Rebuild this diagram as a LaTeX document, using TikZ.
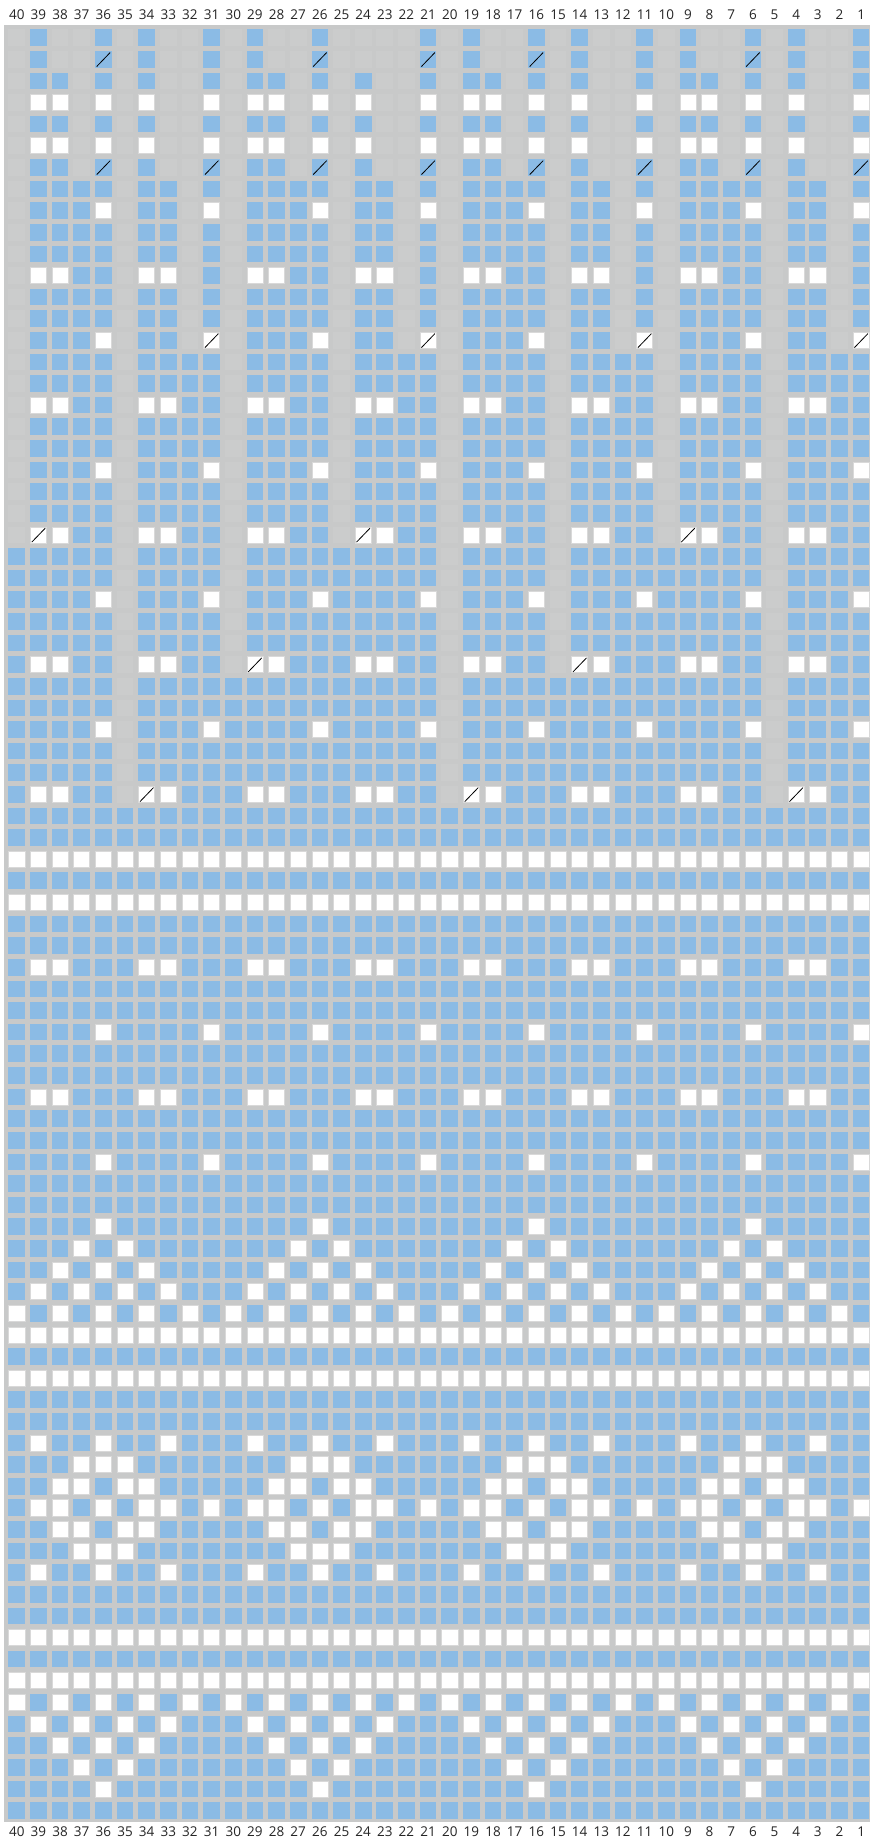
\documentclass[tikz,border=0pt]{standalone}
\usepackage{fontspec}
\setmainfont{Open Sans}
\definecolor{cblue}{HTML}{8BBBE5}
\definecolor{cgray}{HTML}{C8C9C9}
\definecolor{cnone}{HTML}{CBCCCC}
\definecolor{wedge}{HTML}{D9D9D9}
\newcount\cellcol
\newcommand\drawcell[1]{%
  \pgfmathsetmacro\cx{8.4+21.65*\the\cellcol}%
  \if b#1\fill[cblue] (\cx,\cy) rectangle ++(16.7,16.65);\fi
  \if w#1\filldraw[whitecell] (\cx+0.3,\cy+0.3) rectangle ++(16.1,16.05);\fi
  \if S#1\fill[cblue] (\cx,\cy) rectangle ++(16.7,16.65);
    \draw[slashline] (\cx+1.7,\cy+15.6) -- (\cx+15.2,\cy+1.6);\fi
  \if s#1\filldraw[whitecell] (\cx+0.3,\cy+0.3) rectangle ++(16.1,16.05);
    \draw[slashline] (\cx+1.7,\cy+15.6) -- (\cx+15.2,\cy+1.6);\fi
  \if .#1\fill[nonecell] (\cx,\cy) rectangle ++(16.7,16.65);\fi
}
\def\parsechars#1{\ifx\relax#1\else\drawcell{#1}\global\advance\cellcol by 1\relax\expandafter\parsechars\fi}
\newcommand\crow[5]{\pgfmathsetmacro\cy{29.3+21.62*#1}\global\cellcol=0 \parsechars#2#3#4#5\relax}
\newcommand\crowr[2]{\crow{#1}{#2}{#2}{#2}{#2}}
\begin{document}
\begin{tikzpicture}[x=1pt,y=-1pt,
  lbl/.style={font=\fontsize{13.5}{15}\selectfont, inner sep=0pt, text=black!85},
  whitecell/.style={fill=white, draw=wedge, line width=0.6pt},
  nonecell/.style={fill=cnone},
  slashline/.style={draw=black, line width=0.8pt}]
\useasboundingbox (0,0) rectangle (870,1841);
\fill[white] (0,0) rectangle (870,1841);
\fill[cgray] (4,25) rectangle (870,1822);
\foreach \k in {0,...,39}{
  \pgfmathtruncatemacro\c{40-\k}
  \node[lbl] (t\c) at ({16.75+21.65*\k},14.5) {\c};
  \node[lbl] (b\c) at ({16.75+21.65*\k},1832) {\c};
}
\crow{0}{.b..b.b..b}{.b..b....b}{.b..b.b..b}{.b..b.b..b}
\crow{1}{.b..S.b..b}{.b..S....S}{.b..S.b..b}{.b..S.b..b}
\crowr{2}{.bb.b.b..b}
\crowr{3}{.ww.w.w..w}
\crowr{4}{.bb.b.b..b}
\crowr{5}{.ww.w.w..w}
\crowr{6}{.bb.S.b..S}
\crowr{7}{.bbbb.bb.b}
\crowr{8}{.bbbw.bb.w}
\crowr{9}{.bbbb.bb.b}
\crowr{10}{.bbbb.bb.b}
\crowr{11}{.wwbb.ww.b}
\crowr{12}{.bbbb.bb.b}
\crowr{13}{.bbbb.bb.b}
\crowr{14}{.bbbw.bb.s}
\crowr{15}{.bbbb.bbbb}
\crowr{16}{.bbbb.bbbb}
\crowr{17}{.wwbb.wwbb}
\crowr{18}{.bbbb.bbbb}
\crowr{19}{.bbbb.bbbb}
\crowr{20}{.bbbw.bbbw}
\crowr{21}{.bbbb.bbbb}
\crowr{22}{.bbbb.bbbb}
\crow{23}{.swbb.wwbb}{.wwbb.swbb}{.wwbb.wwbb}{.swbb.wwbb}
\crow{24}{bbbbb.bbbb}{.bbbbbbbbb}{.bbbb.bbbb}{bbbbb.bbbb}
\crow{25}{bbbbb.bbbb}{.bbbbbbbbb}{.bbbb.bbbb}{bbbbb.bbbb}
\crow{26}{bbbbw.bbbw}{.bbbwbbbbw}{.bbbw.bbbw}{bbbbw.bbbw}
\crow{27}{bbbbb.bbbb}{.bbbbbbbbb}{.bbbb.bbbb}{bbbbb.bbbb}
\crow{28}{bbbbb.bbbb}{.bbbbbbbbb}{.bbbb.bbbb}{bbbbb.bbbb}
\crow{29}{bwwbb.wwbb}{.swbbbwwbb}{.wwbb.swbb}{bwwbb.wwbb}
\crow{30}{bbbbb.bbbb}{bbbbbbbbbb}{.bbbbbbbbb}{bbbbb.bbbb}
\crow{31}{bbbbb.bbbb}{bbbbbbbbbb}{.bbbbbbbbb}{bbbbb.bbbb}
\crow{32}{bbbbw.bbbw}{bbbbwbbbbw}{.bbbwbbbbw}{bbbbw.bbbw}
\crow{33}{bbbbb.bbbb}{bbbbbbbbbb}{.bbbbbbbbb}{bbbbb.bbbb}
\crow{34}{bbbbb.bbbb}{bbbbbbbbbb}{.bbbbbbbbb}{bbbbb.bbbb}
\crow{35}{bwwbb.swbb}{bwwbbbwwbb}{.swbbbwwbb}{bwwbb.swbb}
\crowr{36}{bbbbbbbbbb}
\crowr{37}{bbbbbbbbbb}
\crowr{38}{wwwwwwwwww}
\crowr{39}{bbbbbbbbbb}
\crowr{40}{wwwwwwwwww}
\crowr{41}{bbbbbbbbbb}
\crowr{42}{bbbbbbbbbb}
\crowr{43}{bwwbbbwwbb}
\crowr{44}{bbbbbbbbbb}
\crowr{45}{bbbbbbbbbb}
\crowr{46}{bbbbwbbbbw}
\crowr{47}{bbbbbbbbbb}
\crowr{48}{bbbbbbbbbb}
\crowr{49}{bwwbbbwwbb}
\crowr{50}{bbbbbbbbbb}
\crowr{51}{bbbbbbbbbb}
\crowr{52}{bbbbwbbbbw}
\crowr{53}{bbbbbbbbbb}
\crowr{54}{bbbbbbbbbb}
\crowr{55}{bbbbwbbbbb}
\crowr{56}{bbbwbwbbbb}
\crowr{57}{bbwbwbwbbb}
\crowr{58}{bwbwbwbwbb}
\crowr{59}{wbwbwbwbwb}
\crowr{60}{wwwwwwwwww}
\crowr{61}{bbbbbbbbbb}
\crowr{62}{wwwwwwwwww}
\crowr{63}{bbbbbbbbbb}
\crowr{64}{bbbbbbbbbb}
\crowr{65}{bwbbwbbwbb}
\crowr{66}{bbbwwwbbbb}
\crowr{67}{bbwwbwwbbb}
\crowr{68}{bwwbwbwwbw}
\crowr{69}{bbwwbwwbbb}
\crowr{70}{bbbwwwbbbb}
\crowr{71}{bwbbwbbwbb}
\crowr{72}{bbbbbbbbbb}
\crowr{73}{bbbbbbbbbb}
\crowr{74}{wwwwwwwwww}
\crowr{75}{bbbbbbbbbb}
\crowr{76}{wwwwwwwwww}
\crowr{77}{wbwbwbwbwb}
\crowr{78}{bwbwbwbwbb}
\crowr{79}{bbwbwbwbbb}
\crowr{80}{bbbwbwbbbb}
\crowr{81}{bbbbwbbbbb}
\crowr{82}{bbbbbbbbbb}
\end{tikzpicture}
\end{document}
